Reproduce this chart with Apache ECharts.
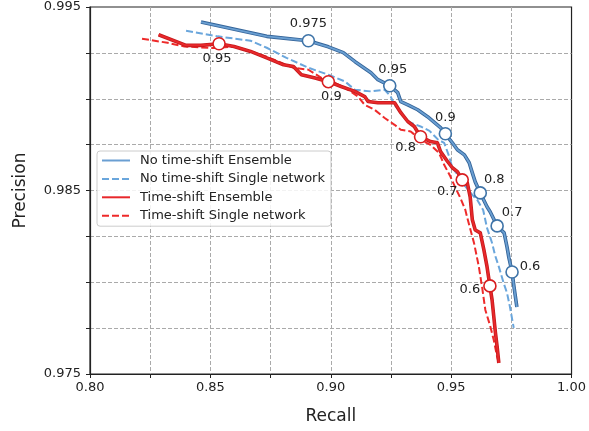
<!DOCTYPE html>
<html>
<head>
<meta charset="utf-8">
<script src="https://cdn.jsdelivr.net/npm/echarts@6/dist/echarts.min.js"></script>
<style>
  html, body { margin: 0; padding: 0; background: #fff; }
  #chart { width: 589px; height: 431px; }
</style>
</head>
<body>
<div id="chart"></div>
<script>
// values
const noShiftEnsRecall = [0.8461, 0.8734, 0.8907, 0.8990, 0.9052, 0.9101, 0.9167, 0.9196, 0.9245, 0.9278, 0.9291, 0.9320, 0.9361, 0.9402, 0.9456, 0.9476, 0.9505, 0.9526, 0.9555, 0.9575, 0.9588, 0.9600, 0.9621, 0.9649, 0.9662, 0.9691, 0.9720, 0.9732, 0.9740, 0.9753, 0.9761, 0.9773];
const noShiftEnsPrec = [0.99418, 0.99340, 0.99316, 0.99283, 0.99251, 0.99202, 0.99142, 0.99104, 0.99071, 0.99033, 0.98984, 0.98967, 0.98940, 0.98902, 0.98842, 0.98809, 0.98760, 0.98722, 0.98694, 0.98651, 0.98596, 0.98547, 0.98487, 0.98411, 0.98384, 0.98307, 0.98269, 0.98193, 0.98133, 0.98056, 0.97975, 0.97865];

const noShiftSingleRecall = [0.8399, 0.8531, 0.8667, 0.8734, 0.8816, 0.8907, 0.8990, 0.9059, 0.9100, 0.9167, 0.9224, 0.9249, 0.9265, 0.9291, 0.9320, 0.9373, 0.9410, 0.9447, 0.9471, 0.9492, 0.9505, 0.9533, 0.9559, 0.9588, 0.9608, 0.9633, 0.9649, 0.9670, 0.9682, 0.9698, 0.9718, 0.9732, 0.9744, 0.9760];
const noShiftSinglePrec = [0.99371, 0.99340, 0.99316, 0.99278, 0.99223, 0.99169, 0.99131, 0.99094, 0.99049, 0.99040, 0.99049, 0.99012, 0.98967, 0.98924, 0.98876, 0.98849, 0.98825, 0.98776, 0.98760, 0.98685, 0.98624, 0.98576, 0.98522, 0.98476, 0.98449, 0.98394, 0.98296, 0.98214, 0.98149, 0.98085, 0.97996, 0.97942, 0.97867, 0.97751];

const shiftEnsRecall = [0.8285, 0.8399, 0.8461, 0.8536, 0.8598, 0.8667, 0.8734, 0.8804, 0.8845, 0.8878, 0.8935, 0.8990, 0.9043, 0.9100, 0.9141, 0.9155, 0.9196, 0.9265, 0.9291, 0.9320, 0.9347, 0.9373, 0.9414, 0.9443, 0.9456, 0.9485, 0.9505, 0.9526, 0.9546, 0.9567, 0.9579, 0.9588, 0.9600, 0.9621, 0.9636, 0.9649, 0.9661, 0.9670, 0.9684, 0.9691, 0.9698];
const shiftEnsPrec = [0.99349, 0.99291, 0.99291, 0.99300, 0.99285, 0.99258, 0.99223, 0.99185, 0.99176, 0.99131, 0.99113, 0.99093, 0.99067, 0.99040, 0.99012, 0.98985, 0.98978, 0.98978, 0.98924, 0.98876, 0.98849, 0.98793, 0.98767, 0.98760, 0.98712, 0.98658, 0.98624, 0.98603, 0.98558, 0.98542, 0.98465, 0.98340, 0.98285, 0.98269, 0.98176, 0.98085, 0.97980, 0.97904, 0.97724, 0.97649, 0.97560];

const shiftSingleRecall = [0.8216, 0.8322, 0.8392, 0.8461, 0.8522, 0.8598, 0.8667, 0.8734, 0.8804, 0.8845, 0.8907, 0.8961, 0.9017, 0.9072, 0.9113, 0.9141, 0.9182, 0.9224, 0.9265, 0.9291, 0.9332, 0.9373, 0.9414, 0.9450, 0.9471, 0.9497, 0.9518, 0.9538, 0.9559, 0.9567, 0.9595, 0.9615, 0.9629, 0.9642, 0.9663, 0.9677, 0.9691, 0.9698];
const shiftSinglePrec = [0.99327, 0.99305, 0.99285, 0.99280, 0.99276, 0.99285, 0.99258, 0.99229, 0.99191, 0.99169, 0.99158, 0.99114, 0.99087, 0.99049, 0.99012, 0.98967, 0.98940, 0.98895, 0.98858, 0.98831, 0.98822, 0.98776, 0.98749, 0.98704, 0.98640, 0.98576, 0.98514, 0.98460, 0.98394, 0.98351, 0.98214, 0.98085, 0.97969, 0.97849, 0.97758, 0.97685, 0.97594, 0.97560];

// threshold markers
const blueMarkText = ['0.975', '0.95', '0.9', '0.8', '0.7', '0.6'];
const blueMarkRecall = [0.8907, 0.9245, 0.9476, 0.9621, 0.9691, 0.9753];
const blueMarkPrec = [0.99316, 0.99071, 0.98809, 0.98487, 0.98307, 0.98056];
const redMarkText = ['0.95', '0.9', '0.8', '0.7', '0.6'];
const redMarkRecall = [0.8536, 0.8990, 0.9373, 0.9546, 0.9661];
const redMarkPrec = [0.99300, 0.99093, 0.98793, 0.98558, 0.97980];

const seriesNames = ['No time-shift Ensemble', 'No time-shift Single network', 'Time-shift Ensemble', 'Time-shift Single network'];

const zip = (xs, ys) => xs.map((x, i) => [x, ys[i]]);

const FONT = 'DejaVu Sans';
const TXT = '#222';

function lineSeries(name, xs, ys, color, width, type, z) {
  return {
    name: name, type: 'line', data: zip(xs, ys), symbol: 'none', z: z,
    lineStyle: { color: color, width: width, type: type, cap: 'butt', join: 'round' },
    itemStyle: { color: color }
  };
}

function markSeries(name, xs, ys, texts, color, offsets) {
  return {
    name: name, type: 'scatter', z: 10,
    symbol: 'circle', symbolSize: 12,
    itemStyle: { color: '#fff', borderColor: color, borderWidth: 1.6, opacity: 1 },
    data: xs.map((x, i) => ({
      value: [x, ys[i]],
      label: { show: true, formatter: texts[i], position: 'inside', offset: offsets[i],
        color: TXT, fontFamily: FONT, fontSize: 13, textBorderWidth: 0 }
    }))
  };
}

const onTick = (v, step) => Math.abs(v / step - Math.round(v / step)) < 1e-6;

const chart = echarts.init(document.getElementById('chart'), null, { renderer: 'canvas' });
chart.setOption({
  animation: false,
  backgroundColor: '#fff',
  grid: { left: 90, right: 14, top: 7, bottom: 57, show: true, borderColor: '#222', borderWidth: 1.2, backgroundColor: 'transparent' },
  legend: {
    data: seriesNames,
    orient: 'vertical', left: 97, top: 151,
    itemWidth: 28, itemHeight: 14, itemGap: 5.4,
    padding: [3, 6, 4, 4],
    backgroundColor: 'rgba(255,255,255,0.85)',
    borderColor: '#cccccc', borderWidth: 1, borderRadius: 3,
    itemStyle: { opacity: 0 },
    textStyle: { fontFamily: FONT, fontSize: 13, color: TXT, padding: [0, 0, 0, 5] }
  },
  xAxis: {
    type: 'value', min: 0.8, max: 1.0, interval: 0.025,
    name: 'Recall', nameLocation: 'middle', nameGap: 34,
    nameTextStyle: { fontFamily: FONT, fontSize: 17, color: TXT },
    axisLine: { show: true, lineStyle: { color: '#222', width: 1.2 } },
    axisTick: { show: true, length: 4, lineStyle: { color: '#222' } },
    axisLabel: { fontFamily: FONT, fontSize: 13, color: TXT, margin: 7,
      formatter: v => onTick(v, 0.05) ? v.toFixed(2) : '' },
    splitLine: { show: true, showMinLine: false, showMaxLine: false,
      lineStyle: { color: '#aaaaaa', type: [4, 2], width: 1 } }
  },
  yAxis: {
    type: 'value', min: 0.975, max: 0.995, interval: 0.0025,
    name: 'Precision', nameLocation: 'middle', nameGap: 61,
    nameTextStyle: { fontFamily: FONT, fontSize: 17, color: TXT },
    axisLine: { show: true, lineStyle: { color: '#222', width: 1.2 } },
    axisTick: { show: true, length: 4, lineStyle: { color: '#222' } },
    axisLabel: { fontFamily: FONT, fontSize: 13, color: TXT, margin: 9,
      formatter: v => onTick(v - 0.975, 0.01) ? v.toFixed(3) : '' },
    splitLine: { show: true, showMinLine: false, showMaxLine: false,
      lineStyle: { color: '#aaaaaa', type: [4, 2], width: 1 } }
  },
  series: [
    lineSeries(seriesNames[1], noShiftSingleRecall, noShiftSinglePrec, '#6aa6dc', 2, [7, 3], 2),
    lineSeries(seriesNames[3], shiftSingleRecall, shiftSinglePrec, '#ee2a2a', 2, [7, 3], 2),
    lineSeries('blue-edge', noShiftEnsRecall, noShiftEnsPrec, '#35659a', 3.6, 'solid', 3),
    lineSeries(seriesNames[0], noShiftEnsRecall, noShiftEnsPrec, '#6a9fd2', 1.8, 'solid', 4),
    lineSeries('red-edge', shiftEnsRecall, shiftEnsPrec, '#c41a1c', 3.6, 'solid', 5),
    lineSeries(seriesNames[2], shiftEnsRecall, shiftEnsPrec, '#e8282b', 2, 'solid', 6),
    markSeries('blue-marks', blueMarkRecall, blueMarkPrec, blueMarkText, '#3f74a8',
      [[0, -17], [3, -16], [0, -16], [14, -13], [15, -13], [18, -5]]),
    markSeries('red-marks', redMarkRecall, redMarkPrec, redMarkText, '#d81e20',
      [[-2, 15], [3, 15], [-15, 11], [-15, 12], [-20, 4]])
  ]
});
</script>
</body>
</html>
